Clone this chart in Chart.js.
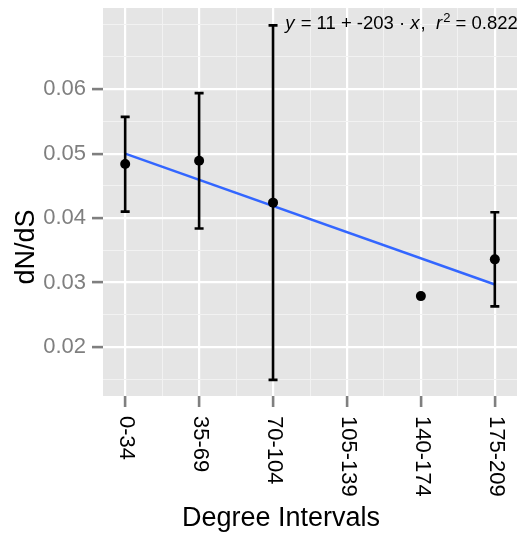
<!DOCTYPE html>
<html>
<head>
<meta charset="utf-8">
<script src="https://cdn.jsdelivr.net/npm/chart.js@4/dist/chart.umd.min.js"></script>
<style>
  html, body { margin: 0; padding: 0; background: #ffffff; }
  #c { display: block; }
</style>
</head>
<body>
<canvas id="c" width="522" height="540"></canvas>
<script>
// ---- data ----
const categories = ['0-34', '35-69', '70-104', '105-139', '140-174', '175-209'];
const dnds       = [0.0484, 0.0489, 0.0424, null, 0.0279, 0.0336];
const upperCI    = [0.0557, 0.0594, 0.0699, null, null, 0.0409];
const lowerCI    = [0.0410, 0.0384, 0.0149, null, null, 0.0263];
const fitX       = [0, 5];
const fitY       = [0.0500, 0.0297];
const yTickValues = [0.02, 0.03, 0.04, 0.05, 0.06];
const yTickLabels = ['0.02', '0.03', '0.04', '0.05', '0.06'];
const yMinorValues = [0.015, 0.025, 0.035, 0.045, 0.055, 0.065, 0.07];
const xLabel = 'Degree Intervals';
const yLabel = 'dN/dS';

const FONT = '"Liberation Sans", Arial, Helvetica, sans-serif';

function isMajorY(v) {
  return yTickValues.some(t => Math.abs(t - v) < 1e-9);
}
function isMajorX(v) {
  return Math.abs(v - Math.round(v)) < 1e-9;
}

const panelBg = {
  id: 'panelBg',
  beforeDraw(chart) {
    const a = chart.chartArea, ctx = chart.ctx;
    ctx.save();
    ctx.fillStyle = '#E5E5E5';
    ctx.fillRect(a.left, a.top, a.right - a.left, a.bottom - a.top);
    ctx.restore();
  }
};

const errorBars = {
  id: 'errorBars',
  beforeDatasetDraw(chart, args) {
    if (args.index !== 0) return;
    const xs = chart.scales.x, ys = chart.scales.y, ctx = chart.ctx;
    ctx.save();
    ctx.strokeStyle = '#000000';
    ctx.lineWidth = 2.6;
    const half = 4.5;
    categories.forEach((c, i) => {
      if (upperCI[i] == null || lowerCI[i] == null) return;
      const px = xs.getPixelForValue(i);
      const pt = ys.getPixelForValue(upperCI[i]);
      const pb = ys.getPixelForValue(lowerCI[i]);
      ctx.beginPath();
      ctx.moveTo(px, pt); ctx.lineTo(px, pb);
      ctx.moveTo(px - half, pt); ctx.lineTo(px + half, pt);
      ctx.moveTo(px - half, pb); ctx.lineTo(px + half, pb);
      ctx.stroke();
    });
    ctx.restore();
  }
};

const texts = {
  id: 'texts',
  afterDraw(chart) {
    const ctx = chart.ctx, xs = chart.scales.x, a = chart.chartArea;
    ctx.save();
    // x tick labels, rotated clockwise (read top to bottom)
    ctx.fillStyle = '#000000';
    ctx.font = '22px ' + FONT;
    ctx.textAlign = 'left';
    ctx.textBaseline = 'middle';
    categories.forEach((c, i) => {
      const px = xs.getPixelForValue(i);
      ctx.save();
      ctx.translate(px + 1, a.bottom + 20);
      ctx.rotate(Math.PI / 2);
      ctx.fillText(c, 0, 0);
      ctx.restore();
    });
    // axis titles
    ctx.font = '27px ' + FONT;
    ctx.textAlign = 'center';
    ctx.textBaseline = 'alphabetic';
    ctx.fillText(xLabel, 281, 526);
    ctx.save();
    ctx.translate(34, 247);
    ctx.rotate(-Math.PI / 2);
    ctx.fillText(yLabel, 0, 0);
    ctx.restore();

    // regression annotation
    const size = 18.5;
    const parts = [
      { t: 'y', it: true },
      { t: ' = 11 + -203 \u00B7 ' },
      { t: 'x', it: true },
      { t: ',  ' },
      { t: 'r', it: true },
      { t: '2', sup: true },
      { t: ' = 0.822' }
    ];
    const fontOf = p => (p.it ? 'italic ' : '') + (p.sup ? Math.round(size * 0.72) : size) + 'px ' + FONT;
    let total = 0;
    parts.forEach(p => { ctx.font = fontOf(p); p.w = ctx.measureText(p.t).width; total += p.w; if (p.it) total += 1; });
    let x = 401.5 - total / 2;
    const base = 29;
    ctx.textAlign = 'left';
    parts.forEach(p => {
      ctx.font = fontOf(p);
      ctx.fillText(p.t, x, p.sup ? base - 7 : base);
      x += p.w + (p.it ? 1 : 0);
    });
    ctx.restore();
  }
};

function resetPad(scale) {
  scale.paddingTop = 0; scale.paddingBottom = 0;
  scale.paddingLeft = 0; scale.paddingRight = 0;
}

new Chart(document.getElementById('c'), {
  type: 'scatter',
  data: {
    datasets: [
      {
        label: 'dN/dS',
        data: categories.map((c, i) => ({ x: i, y: dnds[i] })).filter(d => d.y !== null),
        backgroundColor: '#000000',
        borderColor: '#000000',
        borderWidth: 0,
        pointRadius: 5,
        order: 0
      },
      {
        type: 'line',
        label: 'fit',
        data: fitX.map((x, i) => ({ x: x, y: fitY[i] })),
        borderColor: '#3366FF',
        borderWidth: 2.4,
        pointRadius: 0,
        fill: false,
        order: 2
      }
    ]
  },
  options: {
    responsive: false,
    animation: false,
    events: [],
    layout: { padding: { top: 8, right: 4, left: 0, bottom: 0 } },
    plugins: { legend: { display: false }, tooltip: { enabled: false } },
    scales: {
      x: {
        type: 'linear',
        min: -0.3,
        max: 5.3,
        afterBuildTicks(scale) {
          const t = [];
          for (let i = 0; i <= 10; i++) t.push({ value: i / 2 });
          scale.ticks = t;
        },
        afterFit(scale) { scale.height = 144; resetPad(scale); },
        ticks: { display: false, autoSkip: false },
        border: { display: false },
        grid: {
          color: ctx => isMajorX(ctx.tick.value) ? '#FFFFFF' : '#F2F2F2',
          lineWidth: ctx => isMajorX(ctx.tick.value) ? 2.2 : 1,
          tickColor: ctx => isMajorX(ctx.tick.value) ? '#7F7F7F' : 'rgba(0,0,0,0)',
          tickLength: 11,
          tickWidth: 2.6,
          drawTicks: true
        }
      },
      y: {
        type: 'linear',
        min: 0.0124,
        max: 0.0726,
        afterBuildTicks(scale) {
          const all = yTickValues.concat(yMinorValues).sort((a, b) => a - b);
          scale.ticks = all.map(v => ({ value: v }));
        },
        afterFit(scale) { scale.width = 103; resetPad(scale); },
        ticks: {
          autoSkip: false,
          color: '#7F7F7F',
          font: { size: 22, family: FONT },
          padding: 6,
          callback: v => {
            const k = yTickValues.findIndex(t => Math.abs(t - v) < 1e-9);
            return k >= 0 ? yTickLabels[k] : '';
          }
        },
        border: { display: false },
        grid: {
          color: ctx => isMajorY(ctx.tick.value) ? '#FFFFFF' : '#F2F2F2',
          lineWidth: ctx => isMajorY(ctx.tick.value) ? 2.2 : 1,
          tickColor: ctx => isMajorY(ctx.tick.value) ? '#7F7F7F' : 'rgba(0,0,0,0)',
          tickLength: 11,
          tickWidth: 2.6,
          drawTicks: true
        }
      }
    }
  },
  plugins: [panelBg, errorBars, texts]
});
</script>
</body>
</html>
